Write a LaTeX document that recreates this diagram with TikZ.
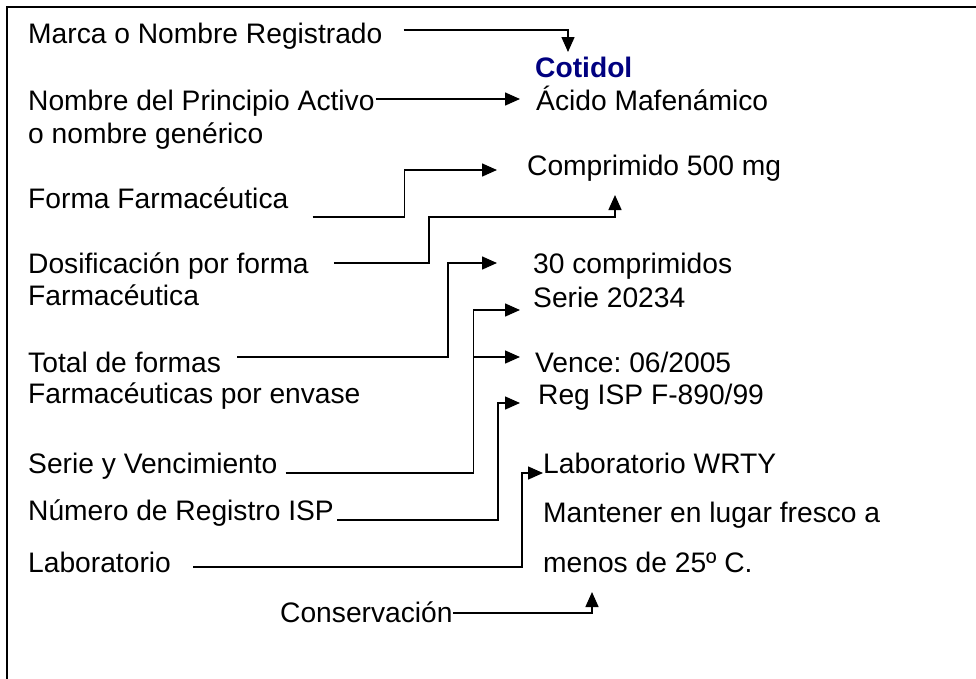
\documentclass[tikz,border=0pt]{standalone}
\usepackage{fontspec}
\setmainfont{Liberation Sans}
\usepackage{xcolor}
\usepackage{tikz}
\usetikzlibrary{arrows.meta}
\definecolor{azulmarca}{RGB}{0,0,128}
\frenchspacing

\begin{document}
\begin{tikzpicture}[x=1pt, y=-1pt,
    txt/.style={anchor=base west, inner sep=0pt, font=\fontsize{28.2}{33}\selectfont},
    conn/.style={line width=1.5pt, -{Triangle[length=15pt, width=13pt]}},
    recto/.style={line width=1.5pt}]
    \useasboundingbox (0,0) rectangle (976,678);
    \clip (0,0) rectangle (976,678);
    \draw[line width=2.8pt] (7,7) rectangle (1000,700);
    % lado izquierdo
    \node[txt] (marca) at (28,43) {Marca o Nombre Registrado};
    \node[txt] (principio) at (28,110) {Nombre del Principio Activo};
    \node[txt] (generico) at (28,143) {o nombre genérico};
    \node[txt] (forma) at (28,208) {Forma Farmacéutica};
    \node[txt] (dosis) at (28,273) {Dosificación por forma};
    \node[txt] (dosis2) at (28,305) {Farmacéutica};
    \node[txt] (total) at (28,372) {Total de formas};
    \node[txt] (total2) at (28,403) {Farmacéuticas por envase};
    \node[txt] (serie) at (28,473) {Serie y Vencimiento};
    \node[txt] (numero) at (28,520) {Número de Registro ISP};
    \node[txt] (lab) at (28,572) {Laboratorio};
    \node[txt] (conserva) at (280,622) {Conservación};
    % lado derecho
    \node[txt, font=\fontsize{28.2}{33}\selectfont\bfseries, text=azulmarca] (cotidol) at (535,77) {Cotidol};
    \node[txt] (acido) at (536,110) {Ácido Mafenámico};
    \node[txt] (compr) at (527,175) {Comprimido 500 mg};
    \node[txt] (treinta) at (533,273) {30 comprimidos};
    \node[txt] (nserie) at (533,307) {Serie 20234};
    \node[txt] (vence) at (535,372) {Vence: 06/2005};
    \node[txt] (reg) at (538,404) {Reg ISP F-890/99};
    \node[txt] (labw) at (543,473) {Laboratorio WRTY};
    \node[txt] (mantener) at (543,522) {Mantener en lugar fresco a};
    \node[txt] (menos) at (543,572) {menos de 25º C.};
    % flechas
    \draw[conn] ([xshift=21pt,yshift=13pt]marca.base east) -| ([xshift=33pt,yshift=25pt]cotidol.base west);
    \draw[conn] ([xshift=1pt,yshift=11pt]principio.base east) -- ([xshift=-16pt,yshift=11pt]acido.base west);
    \draw[conn] ([xshift=24pt,yshift=-9pt]forma.base east) -- ++(92,0) |- ([xshift=-30pt,yshift=5pt]compr.base west);
    \draw[conn] ([xshift=25pt,yshift=10pt]dosis.base east) -- ++(95,0) -- ++(0,-46) -| ([xshift=88pt,yshift=-20pt]compr.base west);
    \draw[conn] ([xshift=16pt,yshift=15pt]total.base east) -- ++(211,0) |- ([xshift=-36pt,yshift=10pt]treinta.base west);
    \coordinate (codo) at ([xshift=196pt]serie.base east);
    \coordinate (pvence) at ([xshift=-15pt,yshift=15pt]vence.base west);
    \draw[conn] ([xshift=8pt]serie.base east) -- (codo) |- ([xshift=-13pt,yshift=-3pt]nserie.base west);
    \draw[conn] (codo |- pvence) -- (pvence);
    \draw[conn] ([xshift=3pt]numero.base east) -- ++(161,0) |- ([xshift=-18pt,yshift=1pt]reg.base west);
    \draw[conn] ([xshift=22pt,yshift=5pt]lab.base east) -- ++(329,0) |- (labw.base west);
    \draw[conn] ([yshift=9pt]conserva.base east) -| ([xshift=49pt,yshift=-20pt]menos.base west);
\end{tikzpicture}
\end{document}
